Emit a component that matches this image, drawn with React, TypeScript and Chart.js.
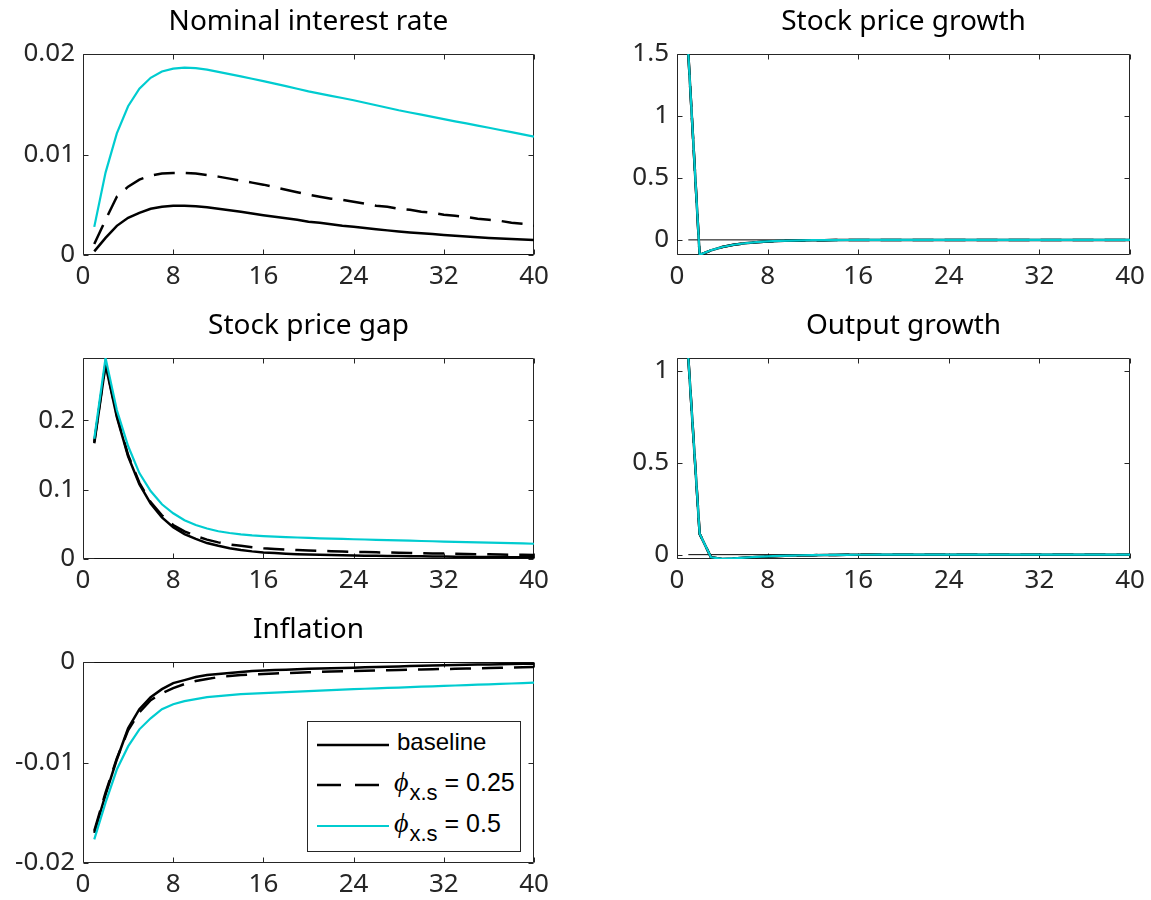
import React, { useEffect, useRef } from 'react';
import { Chart, registerables } from 'chart.js';

Chart.register(...registerables);

// ---------- data ----------
const periods = [1, 2, 3, 4, 5, 6, 7, 8, 9, 10, 11, 12, 13, 14, 15, 16, 17, 18, 19, 20,
  21, 22, 23, 24, 25, 26, 27, 28, 29, 30, 31, 32, 33, 34, 35, 36, 37, 38, 39, 40];

const xTicks = [0, 8, 16, 24, 32, 40];
const xTickLabels = ['0', '8', '16', '24', '32', '40'];

const seriesNames = ['baseline', 'ϕx.s = 0.25', 'ϕx.s = 0.5'];

// Nominal interest rate
const rateBaseline = [0.00036, 0.0017, 0.0029, 0.0037, 0.0042, 0.0046, 0.0048, 0.0049, 0.0049, 0.00484,
  0.00475, 0.0046, 0.00445, 0.0043, 0.00412, 0.00395, 0.0038, 0.00365, 0.0035, 0.0033,
  0.0032, 0.00305, 0.0029, 0.0028, 0.00268, 0.00257, 0.00245, 0.00234, 0.00225, 0.00216,
  0.00208, 0.002, 0.00192, 0.00184, 0.00177, 0.0017, 0.00164, 0.00158, 0.00153, 0.00148];
const ratePhi025 = [0.0011, 0.0035, 0.0058, 0.0068, 0.0075, 0.0079, 0.0081, 0.00816, 0.00816, 0.0081,
  0.00796, 0.0078, 0.0076, 0.0074, 0.0072, 0.007, 0.00675, 0.0065, 0.00625, 0.006,
  0.0058, 0.0056, 0.0055, 0.0053, 0.0051, 0.0049, 0.0048, 0.0046, 0.0045, 0.0043,
  0.0042, 0.004, 0.0039, 0.0038, 0.0036, 0.0035, 0.0034, 0.0032, 0.0031, 0.0029];
const ratePhi05 = [0.0028, 0.0082, 0.0121, 0.0148, 0.01655, 0.01763, 0.01826, 0.01855, 0.01865, 0.01859,
  0.01845, 0.01822, 0.018, 0.01778, 0.01754, 0.0173, 0.01705, 0.0168, 0.01654, 0.01628,
  0.01606, 0.01584, 0.01562, 0.0154, 0.01515, 0.0149, 0.01465, 0.0144, 0.01418, 0.01396,
  0.01374, 0.01352, 0.0133, 0.01309, 0.01287, 0.01266, 0.01244, 0.01222, 0.012, 0.01178];

// Stock price growth
const spgBaseline = [1.5, -0.122, -0.085, -0.058, -0.04, -0.028, -0.019, -0.013, -0.009, -0.006,
  -0.004, -0.003, -0.002, -0.0015, -0.001, -0.0007, -0.0005, -0.0004, -0.0003, -0.0002,
  -0.0002, -0.0001, -0.0001, -0.0001, 0, 0, 0, 0, 0, 0,
  0, 0, 0, 0, 0, 0, 0, 0, 0, 0];
const spgPhi025 = [1.5, -0.122, -0.085, -0.058, -0.04, -0.028, -0.019, -0.013, -0.009, -0.006,
  -0.004, -0.003, -0.002, -0.0015, -0.001, -0.0007, -0.0005, -0.0004, -0.0003, -0.0002,
  -0.0002, -0.0001, -0.0001, -0.0001, 0, 0, 0, 0, 0, 0,
  0, 0, 0, 0, 0, 0, 0, 0, 0, 0];
const spgPhi05 = [1.5, -0.121, -0.084, -0.057, -0.039, -0.027, -0.018, -0.012, -0.008, -0.0055,
  -0.0038, -0.0027, -0.0019, -0.0014, -0.001, -0.0007, -0.0005, -0.0004, -0.0003, -0.0002,
  -0.0002, -0.0001, -0.0001, -0.0001, 0, 0, 0, 0, 0, 0,
  0, 0, 0, 0, 0, 0, 0, 0, 0, 0];

// Stock price gap
const gapBaseline = [0.167, 0.28, 0.205, 0.148, 0.108, 0.08, 0.06, 0.046, 0.036, 0.029,
  0.023, 0.019, 0.0155, 0.013, 0.011, 0.0095, 0.0085, 0.0077, 0.007, 0.0065,
  0.006, 0.0056, 0.0053, 0.005, 0.0048, 0.0046, 0.0044, 0.0042, 0.004, 0.0038,
  0.0036, 0.0035, 0.0033, 0.0032, 0.003, 0.0029, 0.0028, 0.0027, 0.0026, 0.0025];
const gapPhi025 = [0.169, 0.282, 0.207, 0.15, 0.11, 0.082, 0.063, 0.049, 0.04, 0.033,
  0.028, 0.024, 0.021, 0.019, 0.017, 0.0155, 0.0145, 0.0137, 0.013, 0.0124,
  0.0118, 0.0113, 0.0108, 0.0104, 0.01, 0.0096, 0.0093, 0.009, 0.0087, 0.0084,
  0.0081, 0.0078, 0.0075, 0.0072, 0.007, 0.0067, 0.0065, 0.0062, 0.006, 0.0058];
const gapPhi05 = [0.1735, 0.29, 0.215, 0.163, 0.124, 0.098, 0.079, 0.066, 0.056, 0.049,
  0.044, 0.04, 0.0375, 0.0355, 0.034, 0.033, 0.0322, 0.0315, 0.031, 0.0304,
  0.0299, 0.0294, 0.029, 0.0285, 0.0281, 0.0277, 0.0272, 0.0268, 0.0264, 0.026,
  0.0256, 0.0252, 0.0248, 0.0244, 0.024, 0.0236, 0.0232, 0.0228, 0.0224, 0.022];

// Output growth
const ogBaseline = [1.071, 0.113, -0.0145, -0.0236, -0.021, -0.017, -0.013, -0.0095, -0.007, -0.005,
  -0.0035, -0.0025, -0.0018, -0.0012, -0.0008, -0.0005, -0.0004, -0.0003, -0.0002, -0.0002,
  -0.0001, -0.0001, -0.0001, 0, 0, 0, 0, 0, 0, 0,
  0, 0, 0, 0, 0, 0, 0, 0, 0, 0];
const ogPhi025 = [1.071, 0.113, -0.0145, -0.0236, -0.021, -0.017, -0.013, -0.0095, -0.007, -0.005,
  -0.0035, -0.0025, -0.0018, -0.0012, -0.0008, -0.0005, -0.0004, -0.0003, -0.0002, -0.0002,
  -0.0001, -0.0001, -0.0001, 0, 0, 0, 0, 0, 0, 0,
  0, 0, 0, 0, 0, 0, 0, 0, 0, 0];
const ogPhi05 = [1.071, 0.114, -0.0143, -0.0233, -0.0205, -0.0165, -0.0125, -0.009, -0.0066, -0.0047,
  -0.0033, -0.0024, -0.0017, -0.0012, -0.0008, -0.0005, -0.0004, -0.0003, -0.0002, -0.0002,
  -0.0001, -0.0001, -0.0001, 0, 0, 0, 0, 0, 0, 0,
  0, 0, 0, 0, 0, 0, 0, 0, 0, 0];

// Inflation
const infBaseline = [-0.017, -0.0132, -0.0097, -0.0066, -0.0047, -0.0035, -0.0027, -0.0021, -0.0018, -0.0015,
  -0.0013, -0.0012, -0.0011, -0.001, -0.0009, -0.00085, -0.0008, -0.00076, -0.00072, -0.00068,
  -0.00065, -0.00062, -0.00059, -0.00056, -0.00053, -0.0005, -0.00047, -0.00044, -0.00041, -0.00038,
  -0.00035, -0.00032, -0.0003, -0.00028, -0.00026, -0.00024, -0.00022, -0.0002, -0.00018, -0.00017];
const infPhi025 = [-0.0168, -0.013, -0.0096, -0.0068, -0.005, -0.0038, -0.0031, -0.0026, -0.0022, -0.0019,
  -0.0017, -0.0015, -0.0014, -0.0013, -0.00125, -0.0012, -0.00115, -0.0011, -0.00106, -0.00102,
  -0.00098, -0.00095, -0.00092, -0.0009, -0.00087, -0.00084, -0.00082, -0.0008, -0.00077, -0.00075,
  -0.00072, -0.0007, -0.00068, -0.00065, -0.00062, -0.0006, -0.00057, -0.00055, -0.00052, -0.0005];
const infPhi05 = [-0.01765, -0.014, -0.0107, -0.0084, -0.0067, -0.0056, -0.0047, -0.0042, -0.0039, -0.0037,
  -0.0035, -0.0034, -0.0033, -0.0032, -0.00315, -0.0031, -0.00305, -0.003, -0.00295, -0.0029,
  -0.00285, -0.0028, -0.00275, -0.0027, -0.00266, -0.00262, -0.00258, -0.00254, -0.0025, -0.00246,
  -0.00242, -0.00238, -0.00234, -0.0023, -0.00226, -0.00222, -0.00218, -0.00214, -0.0021, -0.00205];

const zeroLine = [0, 0];
const zeroLineX = [1, 40];

// y axes
const rateYTicks = [0, 0.01, 0.02];
const rateYLabels = ['0', '0.01', '0.02'];
const spgYTicks = [0, 0.5, 1, 1.5];
const spgYLabels = ['0', '0.5', '1', '1.5'];
const gapYTicks = [0, 0.1, 0.2];
const gapYLabels = ['0', '0.1', '0.2'];
const ogYTicks = [0, 0.5, 1];
const ogYLabels = ['0', '0.5', '1'];
const infYTicks = [-0.02, -0.01, 0];
const infYLabels = ['-0.02', '-0.01', '0'];

// ---------- styling ----------
const CYAN = '#00CCD0';
const AXIS = '#262626';
const TICK_FONT = { family: '"Noto Sans", sans-serif', size: 26 };
const TITLE_FONT = { family: '"Noto Sans", sans-serif', size: 28, weight: 'normal' as const, lineHeight: 1.2 };

const framePlugin = {
  id: 'matlabFrame',
  beforeDatasetsDraw(chart: any) {
    const { ctx, chartArea: a, scales } = chart;
    const L = Math.round(a.left) + 0.5;
    const R = Math.round(a.right) - 0.5;
    const T = Math.round(a.top) + 0.5;
    const B = Math.round(a.bottom) - 0.5;
    const tl = 5;
    ctx.save();
    ctx.strokeStyle = AXIS;
    ctx.lineWidth = 1;
    ctx.beginPath();
    ctx.rect(L, T, R - L, B - T);
    scales.x.ticks.forEach((t: any) => {
      const px = Math.round(scales.x.getPixelForValue(t.value)) + 0.5;
      ctx.moveTo(px, B); ctx.lineTo(px, B - tl);
      ctx.moveTo(px, T); ctx.lineTo(px, T + tl);
    });
    scales.y.ticks.forEach((t: any) => {
      const py = Math.round(scales.y.getPixelForValue(t.value)) + 0.5;
      ctx.moveTo(L, py); ctx.lineTo(L + tl, py);
      ctx.moveTo(R, py); ctx.lineTo(R - tl, py);
    });
    ctx.stroke();
    ctx.restore();
  },
};

type PanelProps = {
  title: string;
  left: number;
  top: number;
  width: number;
  padRight: number;
  base: number[];
  phi025: number[];
  phi05: number[];
  yMin: number;
  yMax: number;
  yTicks: number[];
  yLabels: string[];
};

const CANVAS_H = 292;
const Y_AXIS_W = 83;
const X_AXIS_H = 37;

function toPoints(xs: number[], ys: number[]) {
  return ys.map((y, i) => ({ x: xs[i], y }));
}

function Panel(p: PanelProps) {
  const ref = useRef<HTMLCanvasElement>(null);
  useEffect(() => {
    if (!ref.current) return;
    const chart = new Chart(ref.current, {
      type: 'line',
      data: {
        datasets: [
          {
            label: seriesNames[2], data: toPoints(periods, p.phi05), borderColor: CYAN,
            borderWidth: 2.2, pointRadius: 0, order: 0, tension: 0,
          },
          {
            label: seriesNames[1], data: toPoints(periods, p.phi025), borderColor: '#000',
            borderWidth: 2.5, borderDash: [21, 11], pointRadius: 0, order: 1, tension: 0,
          },
          {
            label: seriesNames[0], data: toPoints(periods, p.base), borderColor: '#000',
            borderWidth: 2.5, pointRadius: 0, order: 2, tension: 0,
          },
          {
            label: 'zero', data: toPoints(zeroLineX, zeroLine), borderColor: '#000',
            borderWidth: 1, pointRadius: 0, order: 3, tension: 0,
          },
        ],
      },
      options: {
        animation: false,
        responsive: false,
        maintainAspectRatio: false,
        events: [],
        layout: { padding: { left: 0, right: p.padRight, top: 0, bottom: 0 } },
        plugins: {
          legend: { display: false },
          tooltip: { enabled: false },
          title: {
            display: true,
            text: p.title,
            color: '#000',
            font: TITLE_FONT,
            fullSize: false,
            padding: { top: 5, bottom: 15.4 },
          },
        },
        scales: {
          x: {
            type: 'linear',
            min: 0,
            max: 40,
            grid: { display: false, drawTicks: false },
            border: { display: false },
            afterBuildTicks: (scale: any) => {
              scale.ticks = xTicks.map((v) => ({ value: v }));
            },
            afterFit: (scale: any) => { scale.height = X_AXIS_H; },
            ticks: {
              autoSkip: false,
              maxRotation: 0,
              color: AXIS,
              font: TICK_FONT,
              padding: 6,
              callback: (v: any) => xTickLabels[xTicks.indexOf(Number(v))] ?? '',
            },
          },
          y: {
            type: 'linear',
            min: p.yMin,
            max: p.yMax,
            grid: { display: false, drawTicks: false },
            border: { display: false },
            afterBuildTicks: (scale: any) => {
              scale.ticks = p.yTicks.map((v) => ({ value: v }));
            },
            afterFit: (scale: any) => { scale.width = Y_AXIS_W; },
            ticks: {
              autoSkip: false,
              color: AXIS,
              font: TICK_FONT,
              padding: 8,
              callback: (v: any) => {
                const i = p.yTicks.findIndex((t) => Math.abs(t - Number(v)) < 1e-9);
                return i >= 0 ? p.yLabels[i] : '';
              },
            },
          },
        },
      },
      plugins: [framePlugin],
    } as any);
    return () => chart.destroy();
  }, []);
  return (
    <canvas
      ref={ref}
      width={p.width}
      height={CANVAS_H}
      style={{ position: 'absolute', left: p.left, top: p.top, width: p.width, height: CANVAS_H }}
    />
  );
}

function LegendLine({ y, color, dash }: { y: number; color: string; dash?: string }) {
  return (
    <svg
      width={72}
      height={8}
      style={{ position: 'absolute', left: 9, top: y - 4 }}
    >
      <line x1={0} y1={4} x2={72} y2={4} stroke={color} strokeWidth={color === '#000' ? 2.5 : 2.2} strokeDasharray={dash} />
    </svg>
  );
}

function PhiLabel({ y, value }: { y: number; value: string }) {
  return (
    <div
      style={{
        position: 'absolute', left: 86, top: y - 18, height: 30, display: 'flex', alignItems: 'baseline',
        fontFamily: '"Liberation Sans", Arial, sans-serif', fontSize: 25, color: '#000', whiteSpace: 'pre', lineHeight: '30px',
      }}
    >
      <span style={{ fontFamily: '"Liberation Serif", serif', fontStyle: 'italic', fontSize: 28 }}>ϕ</span>
      <span style={{ fontSize: 22, position: 'relative', top: 9, marginLeft: 1 }}>x.s</span>
      <span>{' = ' + value}</span>
    </div>
  );
}

function Legend() {
  return (
    <div
      style={{
        position: 'absolute', left: 307, top: 721, width: 214, height: 131, boxSizing: 'border-box',
        border: '1px solid ' + AXIS, background: '#fff',
      }}
    >
      <LegendLine y={23} color="#000" />
      <div
        style={{
          position: 'absolute', left: 89, top: 23 - 18, lineHeight: '30px', fontSize: 24,
          fontFamily: '"Liberation Sans", Arial, sans-serif', color: '#000',
        }}
      >
        {seriesNames[0]}
      </div>
      <LegendLine y={63} color="#000" dash="24 14" />
      <PhiLabel y={63} value="0.25" />
      <LegendLine y={104} color={CYAN} />
      <PhiLabel y={104} value="0.5" />
    </div>
  );
}

export default function App() {
  return (
    <div
      style={{
        position: 'absolute', left: 0, top: 0, width: 1151, height: 900, overflow: 'hidden', background: '#fff',
      }}
    >
      <Panel title="Nominal interest rate" left={0} top={0} width={560} padRight={26}
        base={rateBaseline} phi025={ratePhi025} phi05={ratePhi05}
        yMin={0} yMax={0.02} yTicks={rateYTicks} yLabels={rateYLabels} />
      <Panel title="Stock price growth" left={594} top={0} width={557} padRight={21}
        base={spgBaseline} phi025={spgPhi025} phi05={spgPhi05}
        yMin={-0.122} yMax={1.5} yTicks={spgYTicks} yLabels={spgYLabels} />
      <Panel title="Stock price gap" left={0} top={304} width={560} padRight={26}
        base={gapBaseline} phi025={gapPhi025} phi05={gapPhi05}
        yMin={0} yMax={0.29} yTicks={gapYTicks} yLabels={gapYLabels} />
      <Panel title="Output growth" left={594} top={304} width={557} padRight={21}
        base={ogBaseline} phi025={ogPhi025} phi05={ogPhi05}
        yMin={-0.0236} yMax={1.071} yTicks={ogYTicks} yLabels={ogYLabels} />
      <Panel title="Inflation" left={0} top={608} width={560} padRight={26}
        base={infBaseline} phi025={infPhi025} phi05={infPhi05}
        yMin={-0.02} yMax={0} yTicks={infYTicks} yLabels={infYLabels} />
      <Legend />
    </div>
  );
}
